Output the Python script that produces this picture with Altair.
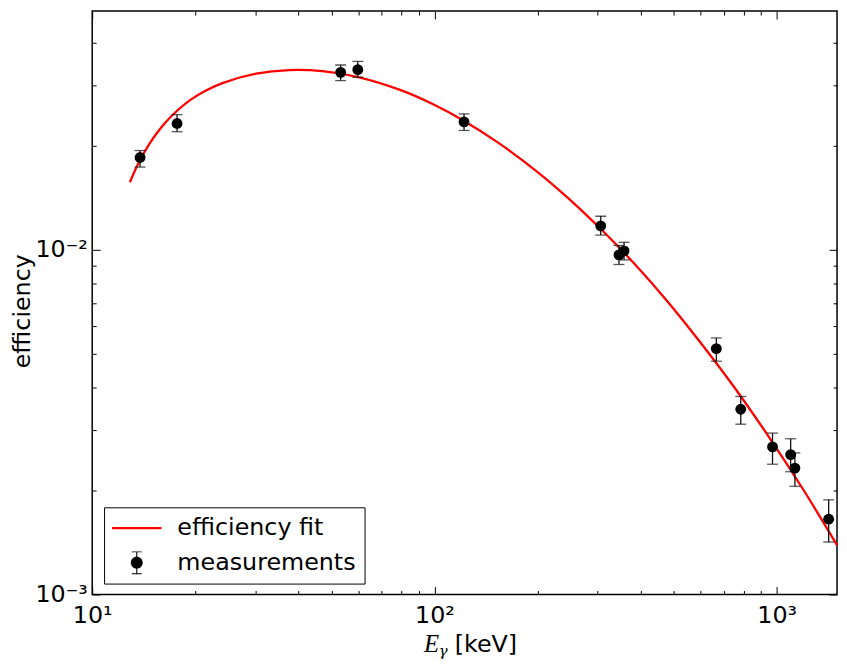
import altair as alt
import pandas as pd

# ---- data ----
energy = [13.8, 17.7, 53.2, 59.7, 122.0, 306.0, 346.0, 358.0, 666.0, 785.0, 972.0, 1098.0, 1130.0, 1418.0]
efficiency = [0.01854, 0.02326, 0.03275, 0.03334, 0.02353, 0.01174, 0.00967, 0.00993,
              0.005169, 0.003447, 0.002680, 0.002547, 0.002327, 0.001654]
eff_low = [0.01739, 0.02202, 0.03100, 0.03168, 0.02221, 0.01104, 0.00907, 0.00935,
           0.004753, 0.003120, 0.002388, 0.002271, 0.002061, 0.001420]
eff_high = [0.01942, 0.02469, 0.03439, 0.03523, 0.02481, 0.01252, 0.01030, 0.01052,
            0.005551, 0.003755, 0.002940, 0.002831, 0.002575, 0.001882]

fit_energy = [12.89, 13.5, 14.15, 14.79, 15.46, 16.3, 17.29, 19.32, 21.5, 24.13, 30.14, 37.66, 47.04,
              59.4, 79.35, 99.1, 121.1, 154.6, 197.6, 246.7, 308.3, 385.1, 480.9, 600.8, 750.5,
              958.8, 1197.5, 1500.0]
fit_eff = [0.015714, 0.017447, 0.019066, 0.020506, 0.021839, 0.023306, 0.024789, 0.027197, 0.029014,
           0.030522, 0.032459, 0.033256, 0.033018, 0.031780, 0.029125, 0.026466, 0.02379, 0.02037,
           0.01699, 0.01409, 0.01142, 0.00908, 0.00706, 0.00536, 0.00400, 0.00282, 0.00201, 0.00139]

legend_labels = ["efficiency fit", "measurements"]
x_tick_values = [10, 20, 30, 40, 50, 60, 70, 80, 90, 100, 200, 300, 400, 500, 600, 700, 800, 900, 1000]
y_tick_values = [0.001, 0.002, 0.003, 0.004, 0.005, 0.006, 0.007, 0.008, 0.009,
                 0.01, 0.02, 0.03, 0.04]
x_title_parts = ["E", "γ", "[keV]"]
y_title = "efficiency"

W, H = 752, 589
FONT = "DejaVu Sans"

meas_df = pd.DataFrame({"E": energy, "eff": efficiency, "lo": eff_low, "hi": eff_high})
fit_df = pd.DataFrame({"E": fit_energy, "eff": fit_eff})
leg_df = pd.DataFrame({"series": legend_labels, "E": [energy[0]] * 2, "eff": [efficiency[0]] * 2})

xscale = alt.Scale(type="log", domain=[10, 1500], nice=False)
yscale = alt.Scale(type="log", domain=[0.001, 0.0493], nice=False)

major_test = "abs(log(datum.value)/LN10 - round(log(datum.value)/LN10)) < 0.001"
tick_size = {"condition": {"test": major_test, "value": 8}, "value": 4}

def tick_axis(orient, offset, values):
    return alt.Axis(orient=orient, offset=offset, values=values, labels=False, domain=False,
                    grid=False, title=None, tickSize=tick_size, tickColor="black", tickWidth=1)

x_label_axis = alt.Axis(
    orient="bottom", values=[10, 100, 1000], ticks=False, tickSize=0, domain=False, grid=False,
    title=None, labelFont=FONT, labelFontSize=24, labelColor="black", labelPadding=9,
    labelOverlap=False, labelFlush=False,
    labelExpr="datum.value == 10 ? '10¹' : datum.value == 100 ? '10²' : datum.value == 1000 ? '10³' : ''")
y_label_axis = alt.Axis(
    orient="left", values=[0.001, 0.01], ticks=False, tickSize=0, domain=False, grid=False,
    title=y_title, titleFont=FONT, titleFontSize=24, titleFontWeight="normal", titleColor="black",
    titleX=-63, titleY=H / 2 + 8, titleAngle=270, titleBaseline="alphabetic", titleAlign="center",
    labelFont=FONT, labelFontSize=24, labelColor="black", labelPadding=5,
    labelOverlap=False, labelFlush=False,
    labelExpr="abs(datum.value - 0.001) < 1e-9 ? '10⁻³' : abs(datum.value - 0.01) < 1e-9 ? '10⁻²' : ''")

fit = alt.Chart(fit_df).mark_line(color="#ff0000", strokeWidth=2.3, interpolate="catmull-rom").encode(
    x=alt.X("E:Q", scale=xscale, axis=x_label_axis),
    y=alt.Y("eff:Q", scale=yscale, axis=y_label_axis),
)

bars = alt.Chart(meas_df).mark_rule(color="#111111", strokeWidth=1.3).encode(
    x=alt.X("E:Q", scale=xscale, axis=tick_axis("top", -H, x_tick_values)),
    y=alt.Y("lo:Q", scale=yscale, axis=tick_axis("right", -W, y_tick_values)),
    y2="hi:Q",
)

caps_hi = alt.Chart(meas_df).mark_tick(color="#111111", orient="horizontal", size=11, thickness=1.3).encode(
    x=alt.X("E:Q", scale=xscale, axis=tick_axis("bottom", -H, x_tick_values)),
    y=alt.Y("hi:Q", scale=yscale, axis=tick_axis("left", -W, y_tick_values)),
)

caps_lo = alt.Chart(meas_df).mark_tick(color="#111111", orient="horizontal", size=11, thickness=1.3).encode(
    x=alt.X("E:Q", scale=xscale, axis=None),
    y=alt.Y("lo:Q", scale=yscale, axis=None),
)

points = alt.Chart(meas_df).mark_point(filled=True, color="black", size=120, opacity=1, shape="circle").encode(
    x=alt.X("E:Q", scale=xscale, axis=None),
    y=alt.Y("eff:Q", scale=yscale, axis=None),
)

# legend symbols: a red line sample and a dot with error bar (unit box = 24 px)
line_path = "M-2.08,-0.09H2.08V0.09H-2.08Z"
marker_path = ("M0.5,0A0.5,0.5 0 1,1 -0.5,0A0.5,0.5 0 1,1 0.5,0Z"
               "M-0.045,-0.92H0.045V0.92H-0.045Z"
               "M-0.42,-0.96H0.42V-0.88H-0.42Z"
               "M-0.42,0.88H0.42V0.96H-0.42Z")

legend = alt.Legend(title=None, orient="none", legendX=12, legendY=501, padding=9,
                    symbolSize=576, symbolStrokeWidth=0, symbolOffset=12, labelOffset=29,
                    labelFont=FONT, labelFontSize=24, labelColor="black", labelLimit=400,
                    rowPadding=11, strokeColor="black", fillColor="white", cornerRadius=0,
                    symbolOpacity=1)

legend_layer = alt.Chart(leg_df).mark_point(filled=True, opacity=0).encode(
    x=alt.X("E:Q", scale=xscale, axis=None),
    y=alt.Y("eff:Q", scale=yscale, axis=None),
    color=alt.Color("series:N", scale=alt.Scale(domain=legend_labels, range=["#ff0000", "black"]), legend=legend),
    shape=alt.Shape("series:N", scale=alt.Scale(domain=legend_labels, range=[line_path, marker_path]), legend=legend),
)

def title_part(text, x, y, font, size, style):
    return alt.Chart(pd.DataFrame({"t": [text]})).mark_text(
        font=font, fontSize=size, fontStyle=style, align="left", baseline="alphabetic", color="black"
    ).encode(text="t:N", x=alt.value(x), y=alt.value(y))

t_E = title_part(x_title_parts[0], 335, 647, "Liberation Serif", 25, "italic")
t_g = title_part(x_title_parts[1], 350, 651, "DejaVu Serif", 15, "italic")
t_k = title_part(x_title_parts[2], 366, 647, FONT, 24, "normal")

chart = alt.layer(fit, bars, caps_hi, caps_lo, points, legend_layer, t_E, t_g, t_k).resolve_axis(
    x="independent", y="independent"
).properties(
    width=W, height=H,
    autosize=alt.AutoSizeParams(type="none"),
    padding={"left": 85, "top": 0, "right": 2, "bottom": 63},
).configure_view(stroke="black", strokeWidth=1.5)

chart.save("out.html", embed_options={"renderer": "svg", "actions": False})
